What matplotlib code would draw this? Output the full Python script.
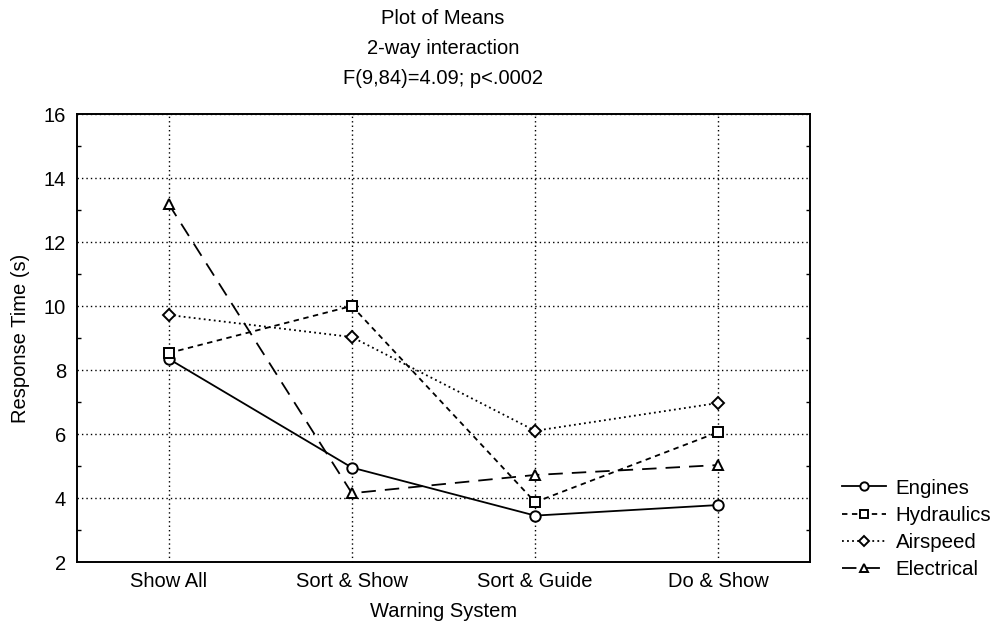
import matplotlib
matplotlib.use("Agg")
import matplotlib.pyplot as plt
from matplotlib.ticker import FixedLocator

plt.rcParams['font.family'] = ['Liberation Sans', 'DejaVu Sans']

categories = ["Show All", "Sort & Show", "Sort & Guide", "Do & Show"]
engines = [8.35, 4.95, 3.45, 3.78]
hydraulics = [8.53, 10.0, 3.87, 6.06]
airspeed = [9.72, 9.03, 6.10, 6.97]
electrical = [13.19, 4.15, 4.72, 5.03]
series_names = ["Engines", "Hydraulics", "Airspeed", "Electrical"]
y_ticks = [2, 4, 6, 8, 10, 12, 14, 16]

fig = plt.figure(figsize=(9.94, 6.28), dpi=100)
ax = fig.add_axes([77/994, 1-562/628, (810-77)/994, (562-114)/628])

x = list(range(len(categories)))
styles = [
    dict(ls='-', marker='o', ms=7.5),
    dict(ls=(0, (3, 2.5)), marker='s', ms=7.5),
    dict(ls=(0, (1, 1.8)), marker='D', ms=6),
    dict(ls=(0, (8, 5)), marker='^', ms=7.5),
]
for name, vals, st in zip(series_names, [engines, hydraulics, airspeed, electrical], styles):
    ax.plot(x, vals, color='black', lw=1.3, linestyle=st['ls'], marker=st['marker'],
            markersize=st['ms'], markerfacecolor='white', markeredgecolor='black',
            markeredgewidth=1.4, label=name, zorder=3)

fs = 14.5
ax.set_xlim(-0.5, 3.5)
ax.set_ylim(2, 16)
ax.set_xticks(x)
ax.set_xticklabels(categories, fontsize=fs)
ax.set_yticks(y_ticks)
ax.set_yticklabels([str(v) for v in y_ticks], fontsize=fs)
ax.yaxis.set_minor_locator(FixedLocator([3, 5, 7, 9, 11, 13, 15]))
ax.tick_params(axis='x', which='major', length=0, pad=7)
ax.tick_params(axis='y', which='major', length=0, pad=8)
ax.tick_params(axis='y', which='minor', direction='in', length=3, left=True, right=True, width=1)
ax.grid(True, which='major', color='black', linestyle=(0, (1, 2.2)), linewidth=1.0)
for sp in ax.spines.values():
    sp.set_linewidth(1.4)

ax.set_ylabel("Response Time (s)", fontsize=fs, labelpad=10)
ax.set_xlabel("Warning System", fontsize=fs, labelpad=8)

fig.text(443/994, 1-18/628, "Plot of Means", ha='center', va='center', fontsize=fs)
fig.text(443/994, 1-48/628, "2-way interaction", ha='center', va='center', fontsize=fs)
fig.text(443/994, 1-78/628, "F(9,84)=4.09; p<.0002", ha='center', va='center', fontsize=fs)

leg = ax.legend(loc='center left', bbox_to_anchor=(828/994, 1-529/628), bbox_transform=fig.transFigure,
                frameon=False, fontsize=14.8, handlelength=2.1, handletextpad=0.5, labelspacing=0.4,
                markerscale=0.8, borderpad=0.2)

fig.savefig("out.png", dpi=100)
